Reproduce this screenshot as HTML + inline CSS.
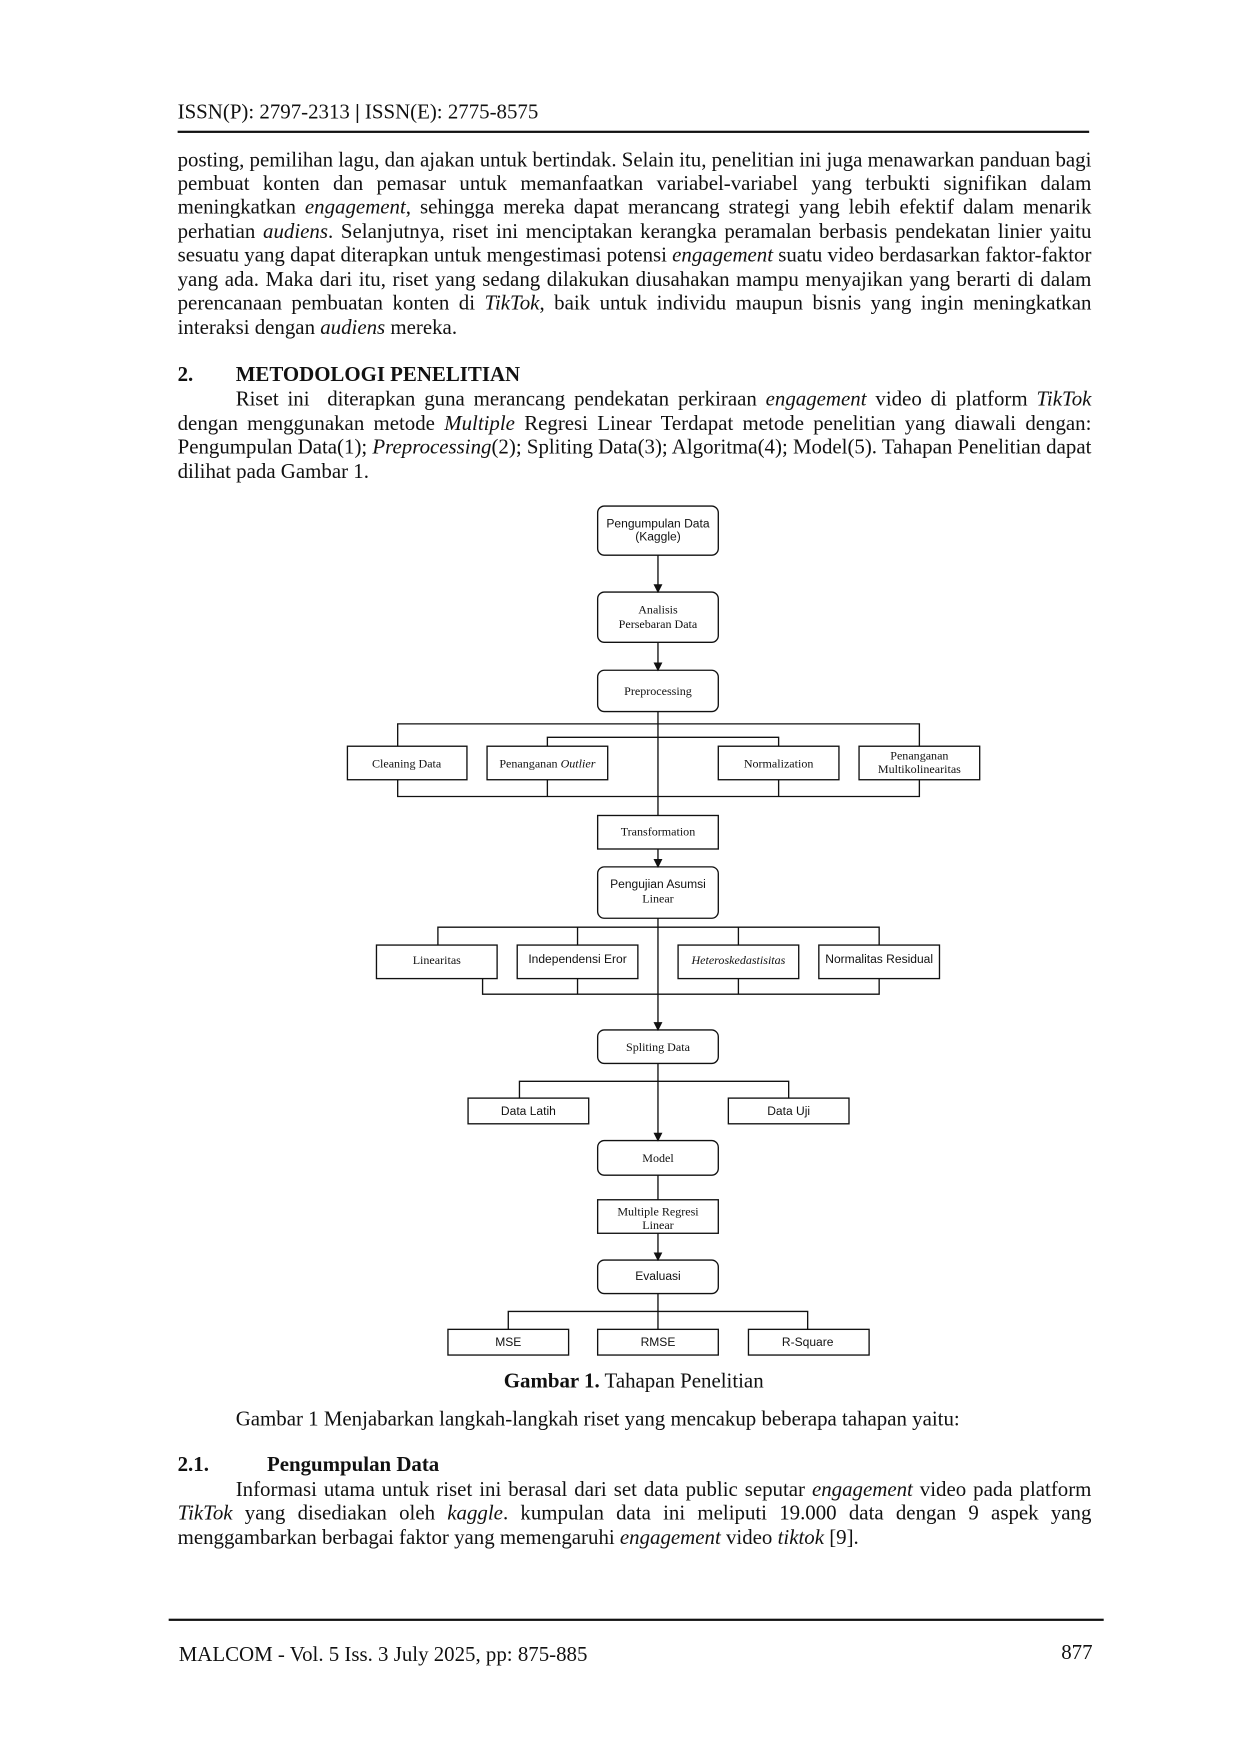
<!DOCTYPE html>
<html><head><meta charset="utf-8">
<style>
html,body{margin:0;padding:0;background:#fff;}
body{width:1240px;height:1754px;overflow:hidden;position:relative;}
#w{position:absolute;left:0;top:0;width:1110px;height:1570px;transform:scale(1.1171);transform-origin:0 0;font-family:"Liberation Serif",serif;color:#111;}
.l{position:absolute;left:159px;width:818px;font-size:18.7px;line-height:18px;white-space:nowrap;text-align:justify;text-align-last:justify;}
.n{text-align-last:left;}
.a{position:absolute;font-size:18.7px;line-height:18px;white-space:nowrap;}
svg{position:absolute;left:0;top:0;}
svg text{font-size:10.8px;}
.s{font-family:"Liberation Sans",sans-serif;}
.f{font-family:"Liberation Serif",serif;}
</style></head><body><div id="w">
<div class="a" style="left:159px;top:92px;">ISSN(P): 2797-2313 <b>|</b> ISSN(E): 2775-8575</div>
<div style="position:absolute;left:159px;top:117px;width:816px;height:1.5px;background:#111"></div>
<div class="l" style="top:135px">posting, pemilihan lagu, dan ajakan untuk bertindak. Selain itu, penelitian ini juga menawarkan panduan bagi</div>
<div class="l" style="top:156px">pembuat konten dan pemasar untuk memanfaatkan variabel-variabel yang terbukti signifikan dalam</div>
<div class="l" style="top:177px">meningkatkan <i>engagement</i>, sehingga mereka dapat merancang strategi yang lebih efektif dalam menarik</div>
<div class="l" style="top:199px">perhatian <i>audiens</i>. Selanjutnya, riset ini menciptakan kerangka peramalan berbasis pendekatan linier yaitu</div>
<div class="l" style="top:220px">sesuatu yang dapat diterapkan untuk mengestimasi potensi <i>engagement</i> suatu video berdasarkan faktor-faktor</div>
<div class="l" style="top:242px">yang ada. Maka dari itu, riset yang sedang dilakukan diusahakan mampu menyajikan yang berarti di dalam</div>
<div class="l" style="top:263px">perencanaan pembuatan konten di <i>TikTok</i>, baik untuk individu maupun bisnis yang ingin meningkatkan</div>
<div class="l n" style="top:285px">interaksi dengan <i>audiens</i> mereka.</div>
<div class="a" style="left:159px;top:327px;font-weight:bold">2.</div>
<div class="a" style="left:211px;top:327px;font-weight:bold">METODOLOGI PENELITIAN</div>
<div class="l" style="top:349px;left:211px;width:766px">Riset ini &nbsp;diterapkan guna merancang pendekatan perkiraan <i>engagement</i> video di platform <i>TikTok</i></div>
<div class="l" style="top:371px">dengan menggunakan metode <i>Multiple</i> Regresi Linear Terdapat metode penelitian yang diawali dengan:</div>
<div class="l" style="top:392px">Pengumpulan Data(1); <i>Preprocessing</i>(2); Spliting Data(3); Algoritma(4); Model(5). Tahapan Penelitian dapat</div>
<div class="l n" style="top:414px">dilihat pada Gambar 1.</div>

<svg width="1110" height="1570" viewBox="0 0 1110 1570">
<defs><marker id="ar" markerWidth="8" markerHeight="8" refX="7" refY="4" orient="auto" markerUnits="userSpaceOnUse"><path d="M0,0 L8,4 L0,8 z" fill="#111"/></marker></defs>
<g fill="none" stroke="#111" stroke-width="1.2">
<rect x="535" y="453" width="108" height="44" rx="6"/>
<rect x="535" y="530" width="108" height="45" rx="6"/>
<rect x="535" y="600" width="108" height="37" rx="6"/>
<rect x="311" y="668" width="107" height="30"/>
<rect x="436" y="668" width="108" height="30"/>
<rect x="643" y="668" width="108" height="30"/>
<rect x="769" y="668" width="108" height="30"/>
<rect x="535" y="730" width="108" height="30"/>
<rect x="535" y="776" width="108" height="46" rx="6"/>
<rect x="337" y="846" width="108" height="30"/>
<rect x="463" y="846" width="108" height="30"/>
<rect x="607" y="846" width="108" height="30"/>
<rect x="733" y="846" width="108" height="30"/>
<rect x="535" y="922" width="108" height="30" rx="6"/>
<rect x="419" y="983" width="108" height="23"/>
<rect x="652" y="983" width="108" height="23"/>
<rect x="535" y="1021" width="108" height="31" rx="6"/>
<rect x="535" y="1074" width="108" height="30"/>
<rect x="535" y="1128" width="108" height="30" rx="6"/>
<rect x="401" y="1190" width="108" height="23"/>
<rect x="535" y="1190" width="108" height="23"/>
<rect x="670" y="1190" width="108" height="23"/>
<line x1="589" y1="497" x2="589" y2="530" marker-end="url(#ar)"/>
<line x1="589" y1="575" x2="589" y2="600" marker-end="url(#ar)"/>
<line x1="589" y1="637" x2="589" y2="730"/>
<polyline points="356,668 356,648 823,648 823,668"/>
<polyline points="490,668 490,660 697,660 697,668"/>
<polyline points="356,698 356,713 823,713 823,698"/>
<line x1="490" y1="698" x2="490" y2="713"/><line x1="697" y1="698" x2="697" y2="713"/>
<line x1="589" y1="760" x2="589" y2="776" marker-end="url(#ar)"/>
<line x1="589" y1="822" x2="589" y2="922" marker-end="url(#ar)"/>
<polyline points="392,846 392,830 787,830 787,846"/>
<line x1="517" y1="830" x2="517" y2="846"/><line x1="661" y1="830" x2="661" y2="846"/>
<polyline points="432,876 432,890 787,890 787,876"/>
<line x1="517" y1="876" x2="517" y2="890"/><line x1="661" y1="876" x2="661" y2="890"/>
<line x1="589" y1="952" x2="589" y2="1021" marker-end="url(#ar)"/>
<polyline points="465,983 465,968 706,968 706,983"/>
<line x1="589" y1="1052" x2="589" y2="1074"/>
<line x1="589" y1="1104" x2="589" y2="1128" marker-end="url(#ar)"/>
<line x1="589" y1="1158" x2="589" y2="1190"/>
<polyline points="455,1190 455,1174 723,1174 723,1190"/>
</g>
<g fill="#111" text-anchor="middle">
<text class="s" x="589" y="472">Pengumpulan Data</text>
<text class="s" x="589" y="484">(Kaggle)</text>
<text class="f" x="589" y="549">Analisis</text>
<text class="f" x="589" y="562">Persebaran Data</text>
<text class="f" x="589" y="622">Preprocessing</text>
<text class="f" x="364" y="687">Cleaning Data</text>
<text class="f" x="490" y="687">Penanganan <tspan font-style="italic">Outlier</tspan></text>
<text class="f" x="697" y="687">Normalization</text>
<text class="f" x="823" y="680">Penanganan</text>
<text class="f" x="823" y="692">Multikolinearitas</text>
<text class="f" x="589" y="748">Transformation</text>
<text class="s" x="589" y="795">Pengujian Asumsi</text>
<text class="f" x="589" y="808">Linear</text>
<text class="f" x="391" y="863">Linearitas</text>
<text class="s" x="517" y="862">Independensi Eror</text>
<text class="f" x="661" y="863" font-style="italic">Heteroskedastisitas</text>
<text class="s" x="787" y="862">Normalitas Residual</text>
<text class="f" x="589" y="941">Spliting Data</text>
<text class="s" x="473" y="998">Data Latih</text>
<text class="s" x="706" y="998">Data Uji</text>
<text class="f" x="589" y="1040">Model</text>
<text class="f" x="589" y="1088">Multiple Regresi</text>
<text class="f" x="589" y="1100">Linear</text>
<text class="s" x="589" y="1146">Evaluasi</text>
<text class="s" x="455" y="1205">MSE</text>
<text class="s" x="589" y="1205">RMSE</text>
<text class="s" x="723" y="1205">R-Square</text>
</g>
</svg>

<div class="a" style="left:451px;top:1228px"><b>Gambar 1.</b> Tahapan Penelitian</div>
<div class="a" style="left:211px;top:1262px">Gambar 1 Menjabarkan langkah-langkah riset yang mencakup beberapa tahapan yaitu:</div>
<div class="a" style="left:159px;top:1303px;font-weight:bold">2.1.</div>
<div class="a" style="left:239px;top:1303px;font-weight:bold">Pengumpulan Data</div>
<div class="l" style="top:1325px;left:211px;width:766px">Informasi utama untuk riset ini berasal dari set data public seputar <i>engagement</i> video pada platform</div>
<div class="l" style="top:1346px"><i>TikTok</i> yang disediakan oleh <i>kaggle</i>. kumpulan data ini meliputi 19.000 data dengan 9 aspek yang</div>
<div class="l n" style="top:1368px">menggambarkan berbagai faktor yang memengaruhi <i>engagement</i> video <i>tiktok</i> [9].</div>
<div style="position:absolute;left:151px;top:1449px;width:837px;height:1.5px;background:#111"></div>
<div class="a" style="left:160px;top:1473px">MALCOM - Vol. 5 Iss. 3 July 2025, pp: 875-885</div>
<div class="a" style="left:950px;top:1471px">877</div>
</div></body></html>
